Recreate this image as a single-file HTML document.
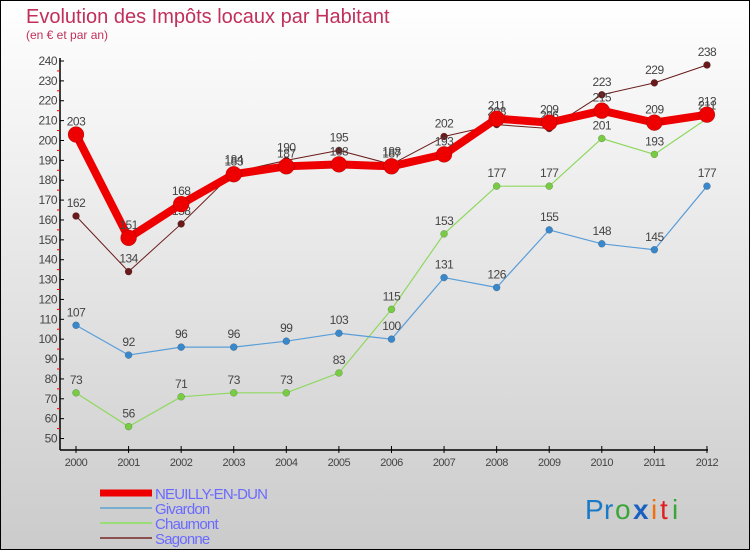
<!DOCTYPE html>
<html><head><meta charset="utf-8"><style>
body{margin:0}
#c{position:relative;width:748px;height:548px;border:1px solid #000;background:linear-gradient(#fff,#cbcbcb);font-family:"Liberation Sans",sans-serif;overflow:hidden}
</style></head><body>
<div id="c">
<svg width="748" height="548" viewBox="1 1 748 548" id="svg">
<text x="26" y="23" font-size="20" fill="#c0305a">Evolution des Impôts locaux par Habitant</text>
<text x="26" y="39" font-size="12" fill="#c0305a">(en € et par an)</text>
<g id="axes"></g><g id="series"></g>
<g id="legend" font-size="15" fill="#6a6aff"></g>
<g font-size="28" font-family="'Liberation Sans',sans-serif">
<text x="585" y="519" fill="#1a7ac8">P</text><text x="604" y="519" fill="#1a7ac8">r</text><text x="615" y="519" fill="#3aa63a">o</text><text x="633" y="519" fill="#1a60c0" font-weight="bold">x</text><text x="651" y="519" fill="#f07010">i</text><text x="660" y="519" fill="#e02020">t</text><text x="672" y="519" fill="#3aa63a">i</text></g>
</svg></div>
<script>
const years=["2000","2001","2002","2003","2004","2005","2006","2007","2008","2009","2010","2011","2012"];
const yTicks=[50,60,70,80,90,100,110,120,130,140,150,160,170,180,190,200,210,220,230,240];
const neuilly=[203,151,168,183,187,188,187,193,211,209,215,209,213];
const givardon=[107,92,96,96,99,103,100,131,126,155,148,145,177];
const chaumont=[73,56,71,73,73,83,115,153,177,177,201,193,211];
const sagonne=[162,134,158,184,190,195,188,202,208,206,223,229,238];
const NS="http://www.w3.org/2000/svg";
const X=i=>76+i*52.58, Y=v=>61+(240-v)*1.987;
function mk(t,a,p){const e=document.createElementNS(NS,t);for(const k in a)e.setAttribute(k,a[k]);p.appendChild(e);return e;}
const ax=document.getElementById('axes');
let l=mk('line',{x1:60,y1:58,x2:60,y2:450,stroke:'#000','stroke-width':1.5},ax);


l=mk('line',{x1:60,y1:450,x2:708,y2:450,stroke:'#000','stroke-width':1.5},ax);


yTicks.forEach(v=>{
 mk('line',{x1:60,y1:Y(v),x2:64,y2:Y(v),stroke:'#000'},ax);
 if(v<240) mk('line',{x1:57,y1:Y(v+5),x2:60,y2:Y(v+5),stroke:'#e00'},ax);
 const t=mk('text',{x:57,y:Y(v)+4,'font-size':12,'text-anchor':'end',fill:'#444','letter-spacing':'-0.5'},ax);t.textContent=v;
 
 
});
years.forEach((y,i)=>{
 mk('line',{x1:X(i),y1:446,x2:X(i),y2:453,stroke:'#000'},ax);
 const t=mk('text',{x:X(i),y:466,'font-size':11,'text-anchor':'middle',fill:'#444','letter-spacing':'-0.5'},ax);t.textContent=y;
 
 
});
const sr=document.getElementById('series');
const defs=[[sagonne,'#6a1a1a',1,3.5,'#6a1a1a','sagonne'],[chaumont,'#8fd860',1.2,3.5,'#77cc44','chaumont'],[givardon,'#5a9ed8',1.2,3.5,'#3a88cc','givardon'],[neuilly,'#ee0000',8,8,'#ee0000','neuilly-en-dun']];
defs.forEach(([d,c,w,r,fc,n])=>{
 const g=mk('g',{},sr);
 
 
 mk('polyline',{points:d.map((v,i)=>X(i)+','+Y(v)).join(' '),fill:'none',stroke:c,'stroke-width':w,'stroke-linejoin':'round'},g);
 d.forEach((v,i)=>{
  const p=mk('circle',{cx:X(i),cy:Y(v),r:r,fill:fc,stroke:'rgba(0,0,0,0.3)','stroke-width':0.5},g);
  
  
  const t=mk('text',{x:X(i),y:Y(v)-9,'font-size':12,'text-anchor':'middle',fill:'#444','letter-spacing':'-0.5'},g);t.textContent=v;
  
  
 });
});
const lg=document.getElementById('legend');
[['NEUILLY-EN-DUN','#ee0000',7],['Givardon','#7aaed0',2],['Chaumont','#99dd77',2],['Sagonne','#8a5050',2]].forEach(([n,c,w],i)=>{
 const y=493+i*15;
 const g=mk('g',{},lg);
 
 
 mk('line',{x1:100,y1:y,x2:152,y2:y,stroke:c,'stroke-width':w},g);
 const t=mk('text',{x:155,y:y+6,'letter-spacing':'-0.8'},g);t.textContent=n;
});
</script>
</body></html>
